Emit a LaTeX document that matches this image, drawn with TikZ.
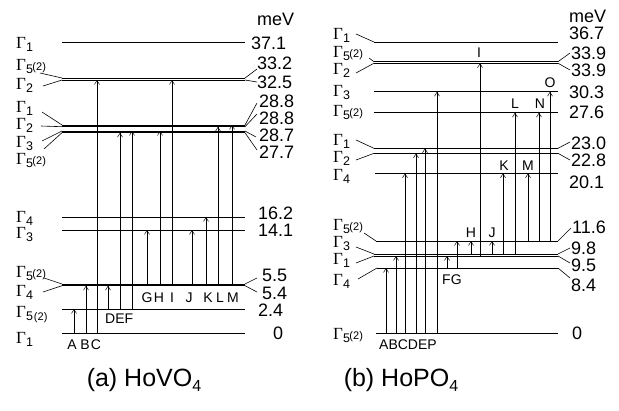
\documentclass[tikz,border=0pt]{standalone}
\usepackage{fontspec}
\setmainfont{Liberation Sans}
\newfontfamily\grk{Liberation Serif}
\usetikzlibrary{arrows.meta}
\newcommand{\Gm}{{\fontsize{17}{17}\selectfont\grk Γ}}
\newcommand{\GL}[1]{\Gm\raisebox{-3.5pt}{\fontsize{12.5}{12.5}\selectfont #1}}
\newcommand{\GF}{\Gm\raisebox{-3.5pt}{\fontsize{12.5}{12.5}\selectfont 5}\kern-0.5pt{\fontsize{11}{11}\selectfont (2)}}
\newcommand{\GFL}{\Gm\raisebox{-3pt}{\fontsize{12.5}{12.5}\selectfont 5\kern1pt\fontsize{11}{11}\selectfont (2)}}
\begin{document}
\begin{tikzpicture}[x=1pt,y=-1pt,
  lev/.style={line width=0.8pt},
  sl/.style={line width=0.6pt},
  arr/.style={line width=0.5pt,-{Straight Barb[length=4pt,width=5pt]}},
  val/.style={font=\fontsize{18}{18}\selectfont,anchor=base west,inner sep=0pt},
  glab/.style={anchor=base west,inner sep=0pt},
  lett/.style={font=\fontsize{14}{14}\selectfont,anchor=base,inner sep=0pt},
  lettw/.style={font=\fontsize{14}{14}\selectfont,anchor=base west,inner sep=0pt},
  capt/.style={font=\fontsize{25}{25}\selectfont,inner sep=0pt}]
\useasboundingbox (0,0) rectangle (619,410);
% ---------------- (a) HoVO4 ----------------
\coordinate (a371) at (62,42.5);
\coordinate (a332) at (62,78);
\coordinate (a325) at (62,80);
\coordinate (a288a) at (62,125);
\coordinate (a288b) at (62,126.7);
\coordinate (a287) at (62,131);
\coordinate (a277) at (62,132.7);
\coordinate (a162) at (62,217);
\coordinate (a141) at (62,230);
\coordinate (a55) at (62,284);
\coordinate (a54) at (62,285.7);
\coordinate (a24) at (62,309);
\coordinate (a0) at (62,333);
\foreach \c in {a371,a332,a325,a288a,a288b,a287,a277,a162,a141,a55,a54,a24,a0}
  \draw[lev] (\c) -- ++(183,0);
% slants
\draw[sl] (40,73) -- (a332); \draw[sl] (43,86) -- (a325);
\draw[sl] (245,78) -- (257,69); \draw[sl] (245,80) -- (257,82);
\draw[sl] (42,112) -- (a288a); \draw[sl] (41,126) -- (a288b);
\draw[sl] (42,141) -- (a287); \draw[sl] (44,149) -- (a277);
\draw[sl] (245,125) -- (257,103); \draw[sl] (245,126.7) -- (257,114);
\draw[sl] (245,131) -- (256,137); \draw[sl] (245,132.7) -- (257,150);
\draw[sl] (44,278) -- (a55); \draw[sl] (43,292) -- (a54);
\draw[sl] (245,284) -- (257,278); \draw[sl] (245,285.7) -- (257,292);
% left labels
\node[glab] (ga1) at (16,48) {\GL{1}};
\node[glab] (ga2) at (16,70) {\GF};
\node[glab] (ga3) at (16,89) {\GL{2}};
\node[glab] (ga4) at (16,112) {\GL{1}};
\node[glab] (ga5) at (16,129) {\GL{2}};
\node[glab] (ga6) at (16,147) {\GL{3}};
\node[glab] (ga7) at (16,164) {\GF};
\node[glab] (ga8) at (16,222) {\GL{4}};
\node[glab] (ga9) at (16,238) {\GL{3}};
\node[glab] (ga10) at (16,277) {\GF};
\node[glab] (ga11) at (16,296) {\GL{4}};
\node[glab] (ga12) at (16,317) {\GFL};
\node[glab] (ga13) at (16,343) {\GL{1}};
% values
\node[val] (mva) at (257,25) {meV};
\node[val] (va1) at (251,49) {37.1};
\node[val] (va2) at (257,69) {33.2};
\node[val] (va3) at (257,88) {32.5};
\node[val] (va4) at (259,107) {28.8};
\node[val] (va5) at (259,124) {28.8};
\node[val] (va6) at (259,141) {28.7};
\node[val] (va7) at (259,158) {27.7};
\node[val] (va8) at (258,219) {16.2};
\node[val] (va9) at (258,236) {14.1};
\node[val] (va10) at (262,281) {5.5};
\node[val] (va11) at (262,299) {5.4};
\node[val] (va12) at (258,316) {2.4};
\node[val] (va13) at (273,339) {0};
% arrows
\draw[arr] (74,0 |- a0) -- (74,0 |- a24);
\draw[arr] (86,0 |- a0) -- (86,0 |- a54);
\draw[arr] (97,0 |- a0) -- (97,0 |- a325);
\draw[arr] (108,0 |- a24) -- (108,0 |- a54);
\draw[arr] (120,0 |- a24) -- (120,0 |- a277);
\draw[arr] (132,0 |- a24) -- (132,0 |- a287);
\draw[arr] (147,0 |- a55) -- (147,0 |- a141);
\draw[arr] (160,0 |- a55) -- (160,0 |- a287);
\draw[arr] (172,0 |- a55) -- (172,0 |- a325);
\draw[arr] (192,0 |- a55) -- (192,0 |- a141);
\draw[arr] (206,0 |- a55) -- (206,0 |- a162);
\draw[arr] (218,0 |- a55) -- (218,0 |- a288b);
\draw[arr] (232,0 |- a55) -- (232,0 |- a288a);
% arrow letters
\node[lett] (aA) at (72,349) {A};
\node[lett] (aB) at (85,349) {B};
\node[lett] (aC) at (96,349) {C};
\node[lettw] (aDEF) at (105,323) {DEF};
\node[lett] (aG) at (147,302) {G};
\node[lett] (aH) at (159,302) {H};
\node[lett] (aI) at (172,302) {I};
\node[lett] (aJ) at (189,302) {J};
\node[lett] (aK) at (208,302) {K};
\node[lett] (aL) at (220,302) {L};
\node[lett] (aM) at (233,302) {M};
\node[capt] (capa) at (144,380) {(a) HoVO\raisebox{-5pt}{\fontsize{16}{16}\selectfont 4}};
% ---------------- (b) HoPO4 ----------------
\coordinate (b367) at (374,42);
\coordinate (b339a) at (374,61.7);
\coordinate (b339b) at (374,63.2);
\coordinate (b303) at (374,91.7);
\coordinate (b276) at (374,112.7);
\coordinate (b230) at (374,148.3);
\coordinate (b228) at (374,153.3);
\coordinate (b201) at (375,173.3);
\coordinate (b116) at (376,241);
\coordinate (b98) at (374,254);
\coordinate (b95) at (374,256);
\coordinate (b84) at (377,268);
\coordinate (b0) at (376,333);
\foreach \c in {b367,b339a,b339b,b303,b276,b230,b228,b201,b116,b98,b95,b84,b0}
  \draw[lev] (\c) -- (558,0 |- \c);
% slants
\draw[sl] (356,34) -- (b367);
\draw[sl] (369,58) -- (b339a); \draw[sl] (356,73) -- (b339b);
\draw[sl] (558,61.7) -- (570,53); \draw[sl] (558,63.2) -- (570,70);
\draw[sl] (356,140) -- (b230); \draw[sl] (356,160) -- (b228);
\draw[sl] (364,233) -- (b116); \draw[sl] (558,241) -- (571,228);
\draw[sl] (558,148.3) -- (570,142); \draw[sl] (558,153.3) -- (570,160);
\draw[sl] (356,247) -- (b98); \draw[sl] (356,263) -- (b95);
\draw[sl] (558,254) -- (570,248); \draw[sl] (558,256) -- (570,263);
\draw[sl] (358,279) -- (b84); \draw[sl] (558,268) -- (570,278);
% left labels
\node[glab] (gb1) at (333,39) {\GL{1}};
\node[glab] (gb2) at (333,57) {\GF};
\node[glab] (gb3) at (333,74) {\GL{2}};
\node[glab] (gb4) at (333,96) {\GL{3}};
\node[glab] (gb5) at (333,116) {\GF};
\node[glab] (gb6) at (333,145) {\GL{1}};
\node[glab] (gb7) at (333,162) {\GL{2}};
\node[glab] (gb8) at (333,180) {\GL{4}};
\node[glab] (gb9) at (333,230) {\GF};
\node[glab] (gb10) at (333,247) {\GL{3}};
\node[glab] (gb11) at (333,264) {\GL{1}};
\node[glab] (gb12) at (333,285) {\GL{4}};
\node[glab] (gb13) at (333,339) {\GF};
% values
\node[val] (mvb) at (569,22) {meV};
\node[val] (vb1) at (569,39) {36.7};
\node[val] (vb2) at (571,59) {33.9};
\node[val] (vb3) at (571,76) {33.9};
\node[val] (vb4) at (569,98) {30.3};
\node[val] (vb5) at (569,118) {27.6};
\node[val] (vb6) at (571,149) {23.0};
\node[val] (vb7) at (571,166) {22.8};
\node[val] (vb8) at (569,188) {20.1};
\node[val] (vb9) at (572,233) {11.6};
\node[val] (vb10) at (571,254) {9.8};
\node[val] (vb11) at (571,271) {9.5};
\node[val] (vb12) at (571,291) {8.4};
\node[val] (vb13) at (572,339) {0};
% arrows
\draw[arr] (386,0 |- b0) -- (386,0 |- b84);
\draw[arr] (396,0 |- b0) -- (396,0 |- b95);
\draw[arr] (405,0 |- b0) -- (405,0 |- b201);
\draw[arr] (416,0 |- b0) -- (416,0 |- b228);
\draw[arr] (425,0 |- b0) -- (425,0 |- b230);
\draw[arr] (437,0 |- b0) -- (437,0 |- b303);
\draw[arr] (447,0 |- b84) -- (447,0 |- b95);
\draw[arr] (457,0 |- b84) -- (457,0 |- b116);
\draw[arr] (471,0 |- b98) -- (471,0 |- b116);
\draw[arr] (480,0 |- b95) -- (480,0 |- b339b);
\draw[arr] (492,0 |- b98) -- (492,0 |- b116);
\draw[arr] (503,0 |- b98) -- (503,0 |- b201);
\draw[arr] (515,0 |- b98) -- (515,0 |- b276);
\draw[arr] (528,0 |- b116) -- (528,0 |- b201);
\draw[arr] (539,0 |- b116) -- (539,0 |- b276);
\draw[arr] (550,0 |- b116) -- (550,0 |- b303);
% arrow letters
\node[lettw] (bA) at (379,349) {ABCDEP};
\node[lettw] (bFG) at (442,284) {FG};
\node[lett] (bH) at (471,237) {H};
\node[lett] (bJ) at (492,237) {J};
\node[lett] (bK) at (504,170) {K};
\node[lett] (bM) at (528,170) {M};
\node[lett] (bL) at (515,108) {L};
\node[lett] (bN) at (540,108) {N};
\node[lett] (bO) at (550,87) {O};
\node[lett] (bI) at (479,57) {I};
\node[capt] (capb) at (401,380) {(b) HoPO\raisebox{-5pt}{\fontsize{16}{16}\selectfont 4}};
\end{tikzpicture}
\end{document}
